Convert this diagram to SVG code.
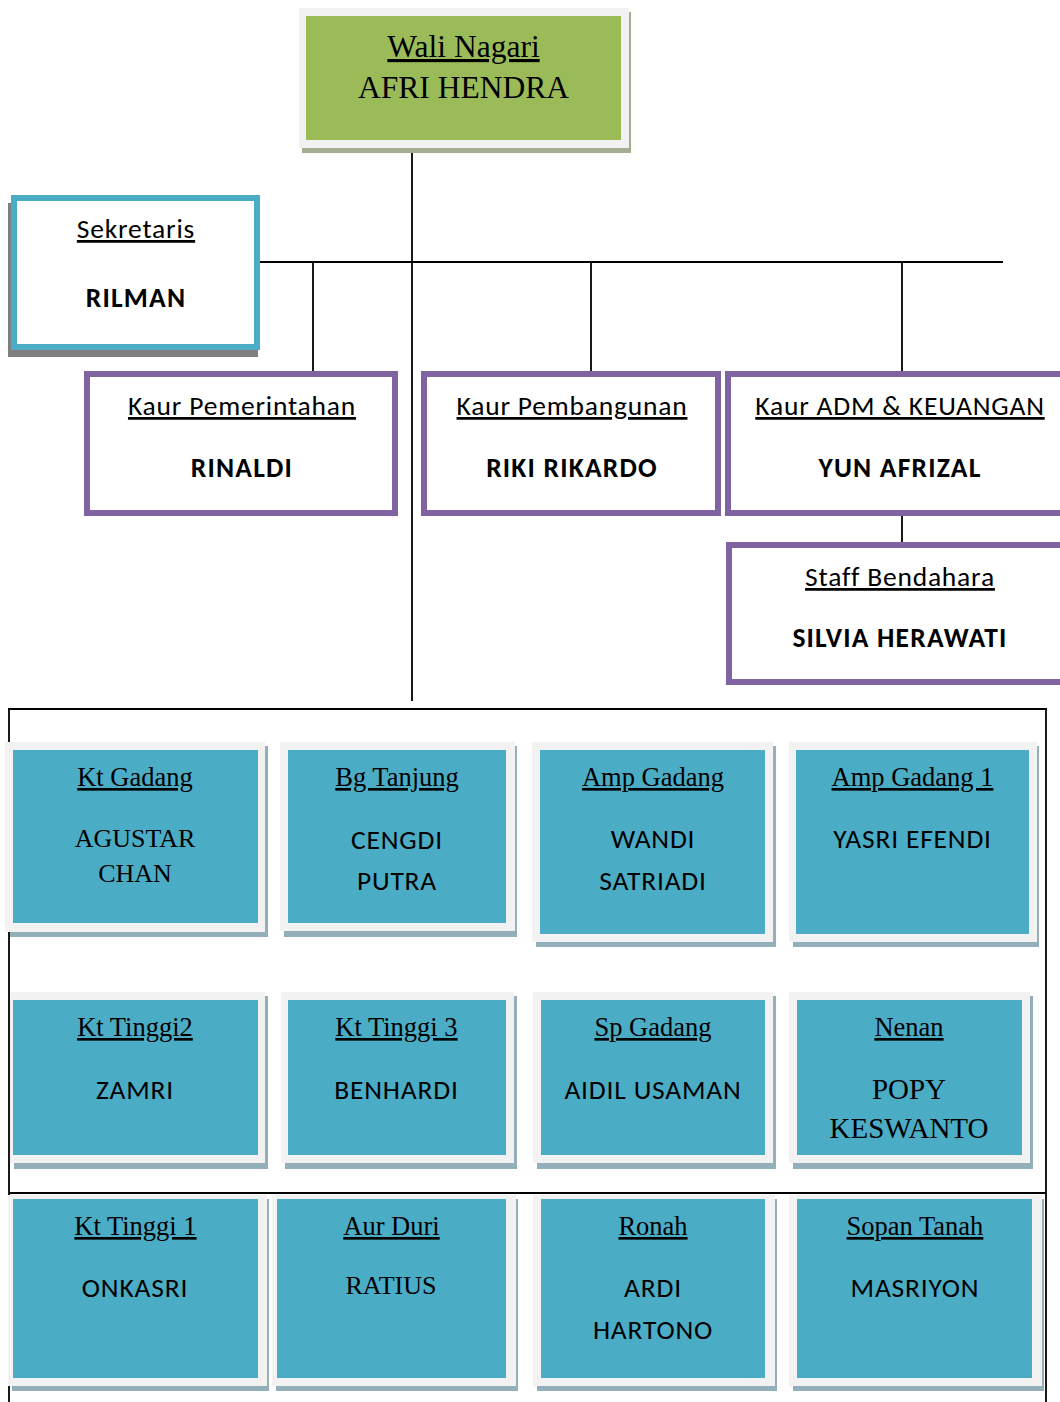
<svg xmlns="http://www.w3.org/2000/svg" width="1060" height="1402" viewBox="0 0 1060 1402">
<style>
.serif{font-family:"Liberation Serif","Times New Roman",serif;fill:#000}
.sans{font-family:Carlito,Calibri,Lato,"Liberation Sans",sans-serif;fill:#000;font-size:27.5px;letter-spacing:0.8px}
.ul{text-decoration:underline}
.b{font-weight:bold;letter-spacing:1.2px}
.mid{text-anchor:middle}
.frame{fill:#F2F2F2}
.tshadow{fill:#93AFBA}
.teal{fill:#4BACC6}
.purple{fill:#FFFFFF;stroke:#8064A2;stroke-width:6}
.conn{stroke:#000;stroke-width:1.8;fill:none}
.loc{font-size:26.5px}
</style>
<rect width="1060" height="1402" fill="#FFFFFF"/>

<g id="connectors">
  <line class="conn" x1="412" y1="148" x2="412" y2="701"/>
  <line class="conn" x1="259" y1="262" x2="1003" y2="262"/>
  <line class="conn" x1="313" y1="262" x2="313" y2="372"/>
  <line class="conn" x1="591" y1="262" x2="591" y2="372"/>
  <line class="conn" x1="902" y1="262" x2="902" y2="372"/>
  <line class="conn" x1="902" y1="515" x2="902" y2="543"/>
  <line class="conn" x1="8" y1="709" x2="1047" y2="709"/>
  <line class="conn" x1="9" y1="709" x2="9" y2="1402"/>
  <line class="conn" x1="1046" y1="709" x2="1046" y2="1402"/>
</g>

<g id="wali-nagari">
  <rect x="302" y="12" width="329" height="141" fill="#A3AD90"/>
  <rect class="frame" x="299" y="8" width="330" height="140"/>
  <rect x="306" y="16" width="315" height="124" fill="#9BBB59"/>
  <text class="serif ul mid" x="463.5" y="57" font-size="31.5">Wali Nagari</text>
  <text class="serif mid" x="463.5" y="98" font-size="31.5">AFRI HENDRA</text>
</g>

<g id="sekretaris">
  <rect x="8" y="203" width="250" height="154" fill="#7F7F7F"/>
  <rect x="14" y="198" width="243" height="149" fill="#FFFFFF" stroke="#4BACC6" stroke-width="6"/>
  <text class="sans ul mid" x="136" y="238">Sekretaris</text>
  <text class="sans b mid" x="136" y="307">RILMAN</text>
</g>

<g id="kaur-pemerintahan">
  <rect class="purple" x="87" y="374" width="308" height="139"/>
  <text class="sans ul mid" x="242" y="415">Kaur Pemerintahan</text>
  <text class="sans b mid" x="242" y="477">RINALDI</text>
</g>

<g id="kaur-pembangunan">
  <rect class="purple" x="424" y="374" width="294" height="139"/>
  <text class="sans ul mid" x="572" y="415">Kaur Pembangunan</text>
  <text class="sans b mid" x="572" y="477">RIKI RIKARDO</text>
</g>

<g id="kaur-adm-keuangan">
  <rect class="purple" x="728" y="374" width="340" height="139"/>
  <text class="sans ul mid" x="900" y="415">Kaur ADM &amp; KEUANGAN</text>
  <text class="sans b mid" x="900" y="477">YUN AFRIZAL</text>
</g>

<g id="staff-bendahara">
  <rect class="purple" x="729" y="545" width="340" height="137"/>
  <text class="sans ul mid" x="900" y="586">Staff Bendahara</text>
  <text class="sans b mid" x="900" y="647">SILVIA HERAWATI</text>
</g>

<g id="kt-gadang">
  <rect class="tshadow" x="10" y="746" width="258" height="191"/>
  <rect class="frame" x="5" y="742" width="260" height="190"/>
  <rect class="teal" x="13" y="750" width="245" height="173"/>
  <text class="serif ul mid loc" x="135" y="786">Kt Gadang</text>
  <text class="serif mid" x="135" y="847" font-size="26">AGUSTAR</text>
  <text class="serif mid" x="135" y="882" font-size="26">CHAN</text>
</g>

<g id="bg-tanjung">
  <rect class="tshadow" x="284" y="746" width="233" height="191"/>
  <rect class="frame" x="280" y="742" width="235" height="189"/>
  <rect class="teal" x="288" y="750" width="218" height="173"/>
  <text class="serif ul mid loc" x="397" y="786">Bg Tanjung</text>
  <text class="sans mid" x="397" y="849">CENGDI</text>
  <text class="sans mid" x="397" y="890">PUTRA</text>
</g>

<g id="amp-gadang">
  <rect class="tshadow" x="536" y="746" width="240" height="201"/>
  <rect class="frame" x="532" y="742" width="241" height="200"/>
  <rect class="teal" x="540" y="750" width="225" height="184"/>
  <text class="serif ul mid loc" x="653" y="786">Amp Gadang</text>
  <text class="sans mid" x="653" y="848">WANDI</text>
  <text class="sans mid" x="653" y="890">SATRIADI</text>
</g>

<g id="amp-gadang-1">
  <rect class="tshadow" x="793" y="746" width="246" height="201"/>
  <rect class="frame" x="789" y="742" width="248" height="200"/>
  <rect class="teal" x="796" y="750" width="233" height="184"/>
  <text class="serif ul mid loc" x="912.5" y="786">Amp Gadang 1</text>
  <text class="sans mid" x="912.5" y="848">YASRI EFENDI</text>
</g>

<g id="kt-tinggi2">
  <rect class="tshadow" x="14" y="996" width="254" height="173"/>
  <rect class="frame" x="10" y="992" width="255" height="171"/>
  <rect class="teal" x="13" y="1000" width="245" height="155"/>
  <text class="serif ul mid loc" x="135" y="1036">Kt Tinggi2</text>
  <text class="sans mid" x="135" y="1099">ZAMRI</text>
</g>

<g id="kt-tinggi-3">
  <rect class="tshadow" x="285" y="996" width="232" height="173"/>
  <rect class="frame" x="281" y="992" width="233" height="171"/>
  <rect class="teal" x="288" y="1000" width="218" height="155"/>
  <text class="serif ul mid loc" x="396.5" y="1036">Kt Tinggi 3</text>
  <text class="sans mid" x="396.5" y="1099">BENHARDI</text>
</g>

<g id="sp-gadang">
  <rect class="tshadow" x="537" y="996" width="239" height="173"/>
  <rect class="frame" x="533" y="992" width="240" height="171"/>
  <rect class="teal" x="541" y="1000" width="224" height="155"/>
  <text class="serif ul mid loc" x="653" y="1036">Sp Gadang</text>
  <text class="sans mid" x="653" y="1099">AIDIL USAMAN</text>
</g>

<g id="nenan">
  <rect class="tshadow" x="793" y="996" width="240" height="173"/>
  <rect class="frame" x="789" y="992" width="241" height="171"/>
  <rect class="teal" x="797" y="1000" width="225" height="155"/>
  <text class="serif ul mid loc" x="909" y="1036">Nenan</text>
  <text class="serif mid" x="909" y="1099" font-size="29">POPY</text>
  <text class="serif mid" x="909" y="1138" font-size="29">KESWANTO</text>
</g>

<g id="kt-tinggi-1">
  <rect class="tshadow" x="12" y="1199" width="257" height="192"/>
  <rect class="frame" x="8" y="1195" width="259" height="191"/>
  <rect class="teal" x="13" y="1199" width="245" height="179"/>
  <text class="serif ul mid loc" x="135.5" y="1235">Kt Tinggi 1</text>
  <text class="sans mid" x="135" y="1297">ONKASRI</text>
</g>

<g id="aur-duri">
  <rect class="tshadow" x="276" y="1199" width="242" height="192"/>
  <rect class="frame" x="272" y="1195" width="244" height="191"/>
  <rect class="teal" x="277" y="1199" width="229" height="179"/>
  <text class="serif ul mid loc" x="391.5" y="1235">Aur Duri</text>
  <text class="serif mid" x="391" y="1294" font-size="26">RATIUS</text>
</g>

<g id="ronah">
  <rect class="tshadow" x="537" y="1199" width="240" height="192"/>
  <rect class="frame" x="533" y="1195" width="242" height="191"/>
  <rect class="teal" x="541" y="1199" width="224" height="179"/>
  <text class="serif ul mid loc" x="653" y="1235">Ronah</text>
  <text class="sans mid" x="653" y="1297">ARDI</text>
  <text class="sans mid" x="653" y="1339">HARTONO</text>
</g>

<g id="sopan-tanah">
  <rect class="tshadow" x="793" y="1199" width="251" height="192"/>
  <rect class="frame" x="789" y="1195" width="253" height="191"/>
  <rect class="teal" x="797" y="1199" width="235" height="179"/>
  <text class="serif ul mid loc" x="915" y="1235">Sopan Tanah</text>
  <text class="sans mid" x="915" y="1297">MASRIYON</text>
</g>

<g id="connectors-front">
  <line class="conn" x1="9" y1="1193" x2="1046" y2="1193"/>
</g>
</svg>
